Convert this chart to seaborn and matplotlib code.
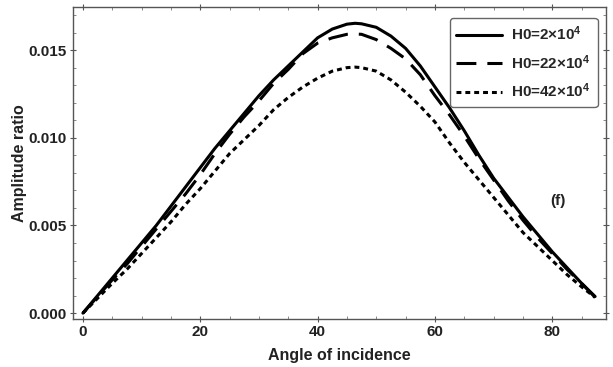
import numpy as np
import pandas as pd
import matplotlib
matplotlib.use("Agg")
import matplotlib.pyplot as plt
import seaborn as sns
from matplotlib.ticker import MultipleLocator, FormatStrFormatter

# Data
angles = [0, 2.5, 5, 7.5, 10, 12.5, 15, 17.5, 20, 22.5, 25, 27.5, 30, 32.5, 35, 37.5, 40,
          42.5, 45, 46.4, 47.5, 50, 52.5, 55, 57.5, 60, 62.5, 65, 67.5, 70, 72.5, 75,
          77.5, 80, 82.5, 85, 87.3]
amp_solid = [0.0, 0.0010, 0.0020, 0.0030, 0.0040, 0.0050, 0.0061, 0.0072, 0.0083, 0.0094,
             0.0104, 0.0114, 0.0124, 0.0133, 0.0141, 0.0149, 0.0157, 0.0162, 0.01648, 0.01653,
             0.0165, 0.0163, 0.0158, 0.0151, 0.0141, 0.0129, 0.0117, 0.0104, 0.0090, 0.0077,
             0.0066, 0.0055, 0.0045, 0.0035, 0.0026, 0.0017, 0.00095]
amp_dash = [0.0, 0.00095, 0.0019, 0.0028, 0.0038, 0.0048, 0.0058, 0.0068, 0.0079, 0.0091,
            0.0102, 0.0112, 0.0121, 0.0131, 0.0139, 0.0148, 0.0154, 0.0157, 0.01590, 0.01592,
            0.0159, 0.0156, 0.0151, 0.0145, 0.0136, 0.0124, 0.0113, 0.0101, 0.0088, 0.0076,
            0.0064, 0.0053, 0.0043, 0.0034, 0.0025, 0.0017, 0.0009]
amp_dot = [0.0, 0.00085, 0.0017, 0.0025, 0.0034, 0.0043, 0.0052, 0.0062, 0.0071, 0.0081,
           0.0091, 0.0099, 0.0107, 0.0116, 0.0123, 0.0129, 0.0134, 0.0138, 0.01400, 0.01403,
           0.0140, 0.0138, 0.0133, 0.0126, 0.0118, 0.0109, 0.0097, 0.0086, 0.0076, 0.0066,
           0.0056, 0.0046, 0.0038, 0.0030, 0.0022, 0.0015, 0.0009]

labels = ["H0=2×10$^{4}$", "H0=22×10$^{4}$", "H0=42×10$^{4}$"]

df = pd.concat([
    pd.DataFrame({"angle": angles, "amp": amp_solid, "series": labels[0]}),
    pd.DataFrame({"angle": angles, "amp": amp_dash, "series": labels[1]}),
    pd.DataFrame({"angle": angles, "amp": amp_dot, "series": labels[2]}),
])

sns.set_theme(style="ticks")
plt.rcParams['font.family'] = ['Liberation Sans Narrow', 'Liberation Sans', 'DejaVu Sans']
plt.rcParams['font.weight'] = 'bold'
plt.rcParams['mathtext.fontset'] = 'custom'
plt.rcParams['mathtext.rm'] = 'Liberation Sans:bold'
plt.rcParams['mathtext.bf'] = 'Liberation Sans:bold'
plt.rcParams['mathtext.default'] = 'bf'

fig = plt.figure(figsize=(6.13, 3.67), dpi=100)
ax = fig.add_axes([0.119, 0.131, 0.870, 0.850])

sns.lineplot(data=df, x="angle", y="amp", hue="series", style="series",
             palette=["black", "black", "black"],
             dashes=[(None, None), (6.5, 3.6), (1.6, 1.3)],
             linewidth=2.2, sort=False, ax=ax, legend=True)
ax.lines[0].set_linestyle("-")
for ln in ax.lines:
    ln.set_solid_capstyle("round")

ax.set_xlim(-1.7, 89.2)
ax.set_ylim(-0.00033, 0.01746)
ax.xaxis.set_major_locator(MultipleLocator(20))
ax.xaxis.set_minor_locator(MultipleLocator(5))
ax.yaxis.set_major_locator(MultipleLocator(0.005))
ax.yaxis.set_minor_locator(MultipleLocator(0.001))
ax.yaxis.set_major_formatter(FormatStrFormatter("%.3f"))
ax.tick_params(which="major", direction="inout", length=5, width=0.8, color="#555555",
               labelsize=11, top=True, right=True, pad=2)
ax.tick_params(which="minor", direction="in", length=2.5, width=0.6, color="#777777",
               top=True, right=True)
ax.tick_params(axis="both", labelcolor="#222222")
for lab in ax.get_xticklabels() + ax.get_yticklabels():
    lab.set_fontweight("bold")
for s in ax.spines.values():
    s.set_color("#555555")
    s.set_linewidth(1.0)
    s.set_visible(True)

ax.set_xlabel("Angle of incidence", fontsize=11.5, fontweight="bold", color="#222222", labelpad=6)
ax.set_ylabel("Amplitude ratio", fontsize=11.5, fontweight="bold", color="#222222", labelpad=1)

ax.text(81.0, 0.0064, "(f)", fontsize=11, fontweight="bold", color="#222222",
        ha="center", va="center")

leg = ax.legend(loc="upper right", fontsize=11, frameon=True, fancybox=True,
                handlelength=3.0, handletextpad=0.6, borderpad=0.45, labelspacing=0.65,
                bbox_to_anchor=(0.998, 0.99), title=None)
leg.get_frame().set_edgecolor("#666666")
leg.get_frame().set_linewidth(1.0)
leg.get_frame().set_alpha(1)
for t in leg.get_texts():
    t.set_fontweight("bold")
for h in leg.get_lines():
    h.set_linewidth(2.2)

fig.savefig("out.png", dpi=100)
